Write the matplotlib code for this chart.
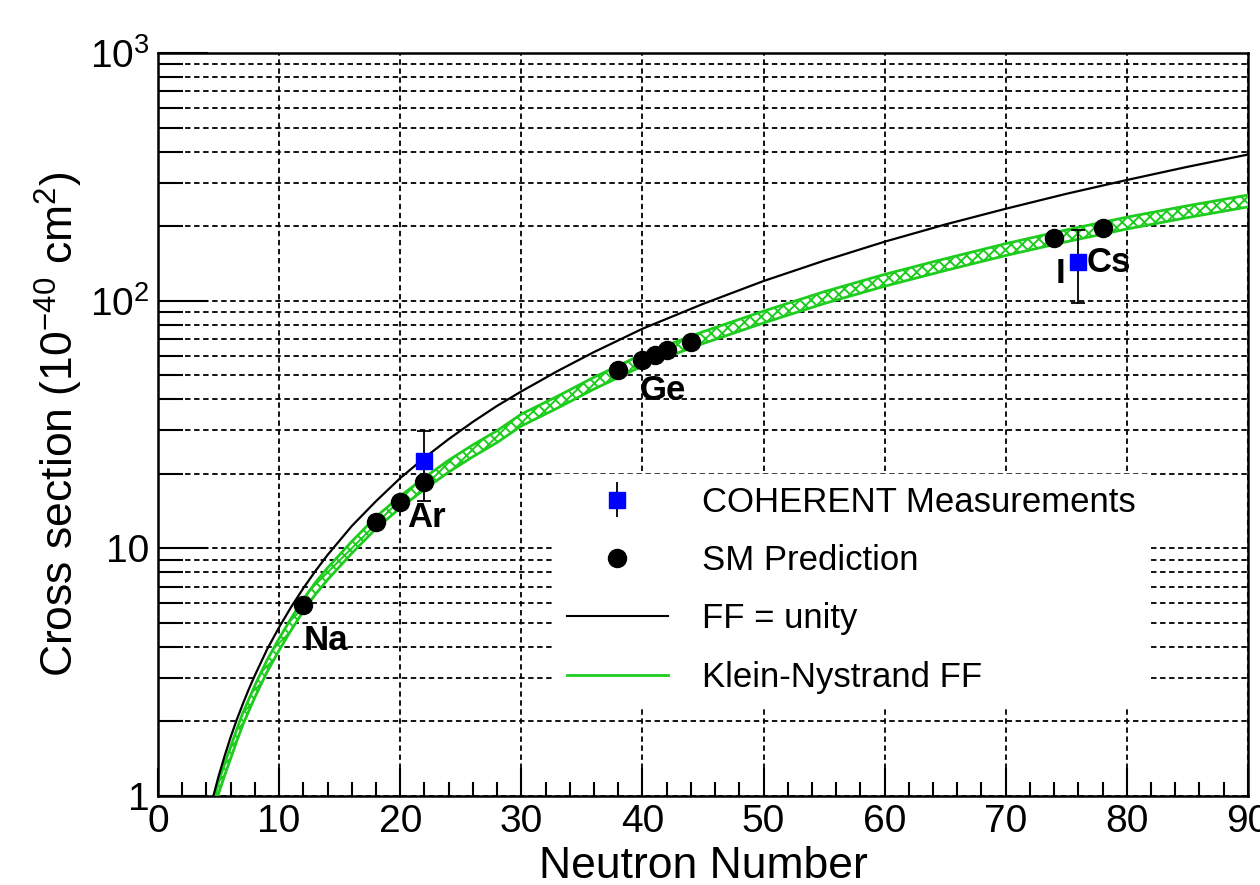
"""CEvNS cross section versus neutron number."""

import matplotlib
matplotlib.use("Agg")
import matplotlib.pyplot as plt
from matplotlib.lines import Line2D
from matplotlib.ticker import FixedLocator, FixedFormatter, LogLocator, NullFormatter

plt.rcParams["font.family"] = ["Liberation Sans", "DejaVu Sans"]
plt.rcParams["mathtext.fontset"] = "custom"
plt.rcParams["mathtext.rm"] = "Liberation Sans"
plt.rcParams["mathtext.default"] = "regular"
plt.rcParams["hatch.linewidth"] = 1.4

# curves
curve_n = [4.5, 5, 5.5, 6, 6.5, 7, 7.5, 8, 9, 10, 11, 12, 13, 14, 16, 18, 20,
           22, 24, 26, 28, 30, 33, 36, 40, 45, 50, 55, 60, 65, 70, 75, 80, 85, 90]
ff_unity = [0.97, 1.2, 1.45, 1.73, 2.03, 2.35, 2.7, 3.07, 3.9, 4.8, 5.8, 6.9,
            8.1, 9.4, 12.3, 15.5, 19.2, 23.2, 27.6, 32.4, 37.6, 43, 52, 62, 77,
            97, 120, 145, 173, 203, 235, 270, 307, 347, 389]
kn_center = [0.85, 1.08, 1.28, 1.5, 1.76, 2.05, 2.33, 2.65, 3.35, 4.1, 4.95, 5.9,
             6.9, 7.9, 10.1, 12.7, 15.4, 18.3, 21.5, 24.8, 28.3, 33, 39, 46.5,
             57.6, 71, 86, 103, 121, 140, 161, 183, 206, 229, 253]
kn_lower = [v * 0.945 for v in kn_center]
kn_upper = [v * 1.055 for v in kn_center]

# SM predictions (black circles)
sm_n = [12, 18, 20, 22, 38, 40, 41, 42, 44, 74, 78]
sm_xs = [5.9, 12.8, 15.4, 18.5, 52.5, 57.6, 60.5, 63.5, 68, 179, 196]

# COHERENT measurements (Ar, CsI)
meas_n = [22, 76]
meas_xs = [22.5, 143]
meas_lo = [7.0, 45]
meas_hi = [7.3, 50]

# element labels
labels = ["Na", "Ar", "Ge", "I", "Cs"]
label_x = [12.0, 20.6, 39.8, 74.1, 76.7]
label_y = [3.88, 12.2, 39.7, 118, 130]

green = "#1ecc1e"

fig = plt.figure(figsize=(12.6, 8.85), dpi=100)
ax = fig.add_axes([0.1254, 0.1006, 0.865, 0.8395])
ax.set_yscale("log")
ax.set_xlim(0, 90)
ax.set_ylim(1, 1000)

ax.fill_between(curve_n, kn_lower, kn_upper, facecolor="white", edgecolor=green,
                hatch="xxx", linewidth=0, zorder=3)
ax.plot(curve_n, kn_lower, color=green, lw=2, zorder=3)
ax.plot(curve_n, kn_upper, color=green, lw=2, zorder=3)
ax.plot(curve_n, ff_unity, color="black", lw=1.6, zorder=4)

ax.plot(sm_n, sm_xs, "o", color="black", ms=13, zorder=5)
ax.errorbar(meas_n, meas_xs, yerr=[meas_lo, meas_hi], fmt="s", color="blue",
            ms=12, ecolor="black", elinewidth=1.3, capsize=5, capthick=1.3, zorder=6)

for name, lx, ly in zip(labels, label_x, label_y):
    ax.text(lx, ly, name, fontsize=25, fontweight="bold", ha="left",
            va="baseline", zorder=7)

# axes styling
ax.xaxis.set_major_locator(FixedLocator(range(0, 91, 10)))
ax.xaxis.set_minor_locator(FixedLocator(range(0, 91, 2)))
ax.yaxis.set_major_locator(FixedLocator([1, 10, 100, 1000]))
ax.yaxis.set_major_formatter(FixedFormatter(["1", "10", "$10^2$", "$10^3$"]))
ax.yaxis.set_minor_locator(LogLocator(base=10, subs=range(2, 10)))
ax.yaxis.set_minor_formatter(NullFormatter())
ax.tick_params(axis="both", which="both", direction="in", labelsize=28, width=1.5)
ax.tick_params(axis="x", which="major", length=20, pad=6)
ax.tick_params(axis="x", which="minor", length=10)
ax.tick_params(axis="y", which="major", length=36, pad=6)
ax.tick_params(axis="y", which="minor", length=18)
for side in ax.spines.values():
    side.set_linewidth(1.8)

ax.grid(True, which="major", axis="x", color="black", linestyle=(0, (3, 2)), lw=1.3)
ax.grid(True, which="both", axis="y", color="black", linestyle=(0, (3, 2)), lw=1.3)
ax.set_axisbelow(True)

ax.set_xlabel("Neutron Number", fontsize=32, labelpad=4)
ax.set_ylabel("Cross section (10$^{-40}$ cm$^2$)", fontsize=32, labelpad=4)

meas_handle = ax.errorbar([], [], yerr=[[], []], fmt="s", color="blue", ms=12,
                          ecolor="black", elinewidth=1.3)
handles = [
    meas_handle,
    Line2D([], [], color="black", marker="o", ms=13, lw=0),
    Line2D([], [], color="black", lw=1.5),
    Line2D([], [], color=green, lw=2),
]
leg = ax.legend(handles, ["COHERENT Measurements", "SM Prediction", "FF = unity",
                          "Klein-Nystrand FF"],
                loc="upper left", bbox_to_anchor=(0.364, 0.434), borderaxespad=0,
                fontsize=25, frameon=True, fancybox=False, edgecolor="white",
                framealpha=1, handlelength=2.9, handletextpad=1.0,
                labelspacing=0.73, borderpad=0.35)
leg.set_zorder(8)

fig.savefig("out.png", dpi=100)
